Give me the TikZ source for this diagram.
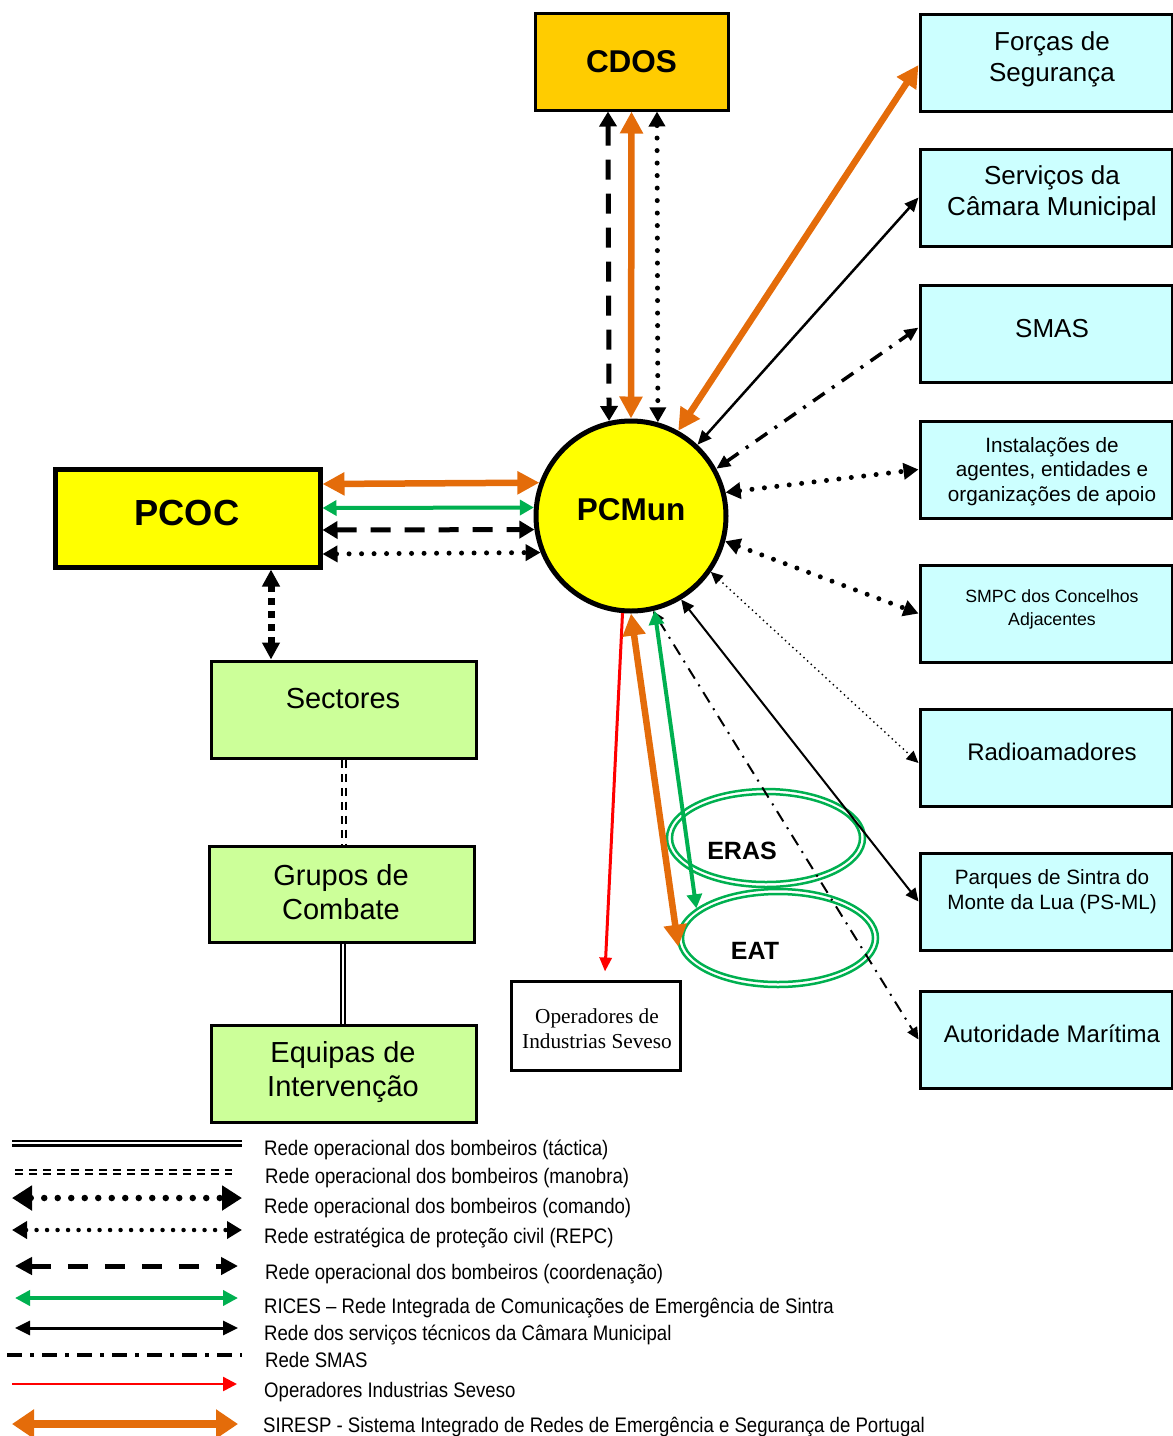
\documentclass[tikz,border=0pt]{standalone}
\usepackage{fontspec}
\setmainfont{Liberation Sans}
\newfontfamily\seriffam{Liberation Serif}
\usetikzlibrary{arrows.meta,calc,shapes.geometric}
\definecolor{orng}{HTML}{E46C0A}
\definecolor{grn}{HTML}{00B050}
\definecolor{cdosc}{HTML}{FFCC00}
\definecolor{yel}{HTML}{FFFF00}
\definecolor{cyb}{HTML}{CCFFFF}
\definecolor{lgr}{HTML}{CCFF99}
\newcommand{\lgstretch}[1]{\scalebox{1}[1.13]{#1}}
\begin{document}
\begin{tikzpicture}[x=1pt,y=-1pt,
  every node/.style={inner sep=0pt},
  rbox/.style={draw=black, rectangle, line width=3pt, fill=cyb, minimum width=252pt, minimum height=97pt},
  gbox/.style={draw=black, rectangle, line width=3pt, fill=lgr, minimum width=265pt, minimum height=97pt},
  tA/.style={align=center, font=\fontsize{26}{31}\selectfont},
  tB/.style={align=center, font=\fontsize{24}{29}\selectfont},
  tC/.style={align=center, font=\fontsize{20.7}{24.5}\selectfont},
  tD/.style={align=center, font=\fontsize{17.7}{23}\selectfont},
  tG/.style={align=center, font=\fontsize{29}{34}\selectfont},
  bt/.style={font=\bfseries\fontsize{#1}{#1}\selectfont},
  lgt/.style={anchor=base west, font=\fontsize{18.6}{20}\selectfont},
  ocon/.style={draw=orng, line width=6.5pt, arrows={Triangle[length=22pt,width=22pt]-Triangle[length=22pt,width=22pt]}},
  gcon/.style={draw=grn, line width=4pt, arrows={Triangle[length=14pt,width=15pt]-Triangle[length=14pt,width=15pt]}},
  dcon/.style={draw=black, line width=5pt, dash pattern=on 20pt off 14pt, arrows={Triangle[length=15pt,width=17pt]-Triangle[length=15pt,width=17pt]}},
  pcon/.style={draw=black, line width=5pt, line cap=round, dash pattern=on 0pt off 12.5pt, arrows={Triangle[length=15pt,width=16pt]-Triangle[length=15pt,width=16pt]}},
  sqcon/.style={draw=black, line width=7pt, dash pattern=on 7pt off 6pt, arrows={Triangle[length=17pt,width=17pt]-Triangle[length=17pt,width=17pt]}},
  scon/.style={draw=black, line width=2.5pt, arrows={Triangle[length=14pt,width=12pt]-Triangle[length=14pt,width=12pt]}},
  sthin/.style={draw=black, line width=2pt, arrows={Triangle[length=13pt,width=12pt]-Triangle[length=13pt,width=12pt]}},
  ddcon/.style={draw=black, line width=3.5pt, dash pattern=on 14pt off 9pt on 3pt off 9pt, arrows={Triangle[length=14pt,width=12pt]-Triangle[length=14pt,width=12pt]}},
  ddthin/.style={draw=black, line width=2pt, dash pattern=on 12pt off 7pt on 2pt off 7pt, arrows={Triangle[length=12pt,width=11pt]-Triangle[length=12pt,width=11pt]}},
  fdcon/.style={draw=black, line width=2pt, line cap=round, dash pattern=on 0pt off 5pt, arrows={Triangle[length=12pt,width=11pt]-Triangle[length=12pt,width=11pt]}},
  rcon/.style={draw=red, line width=3pt, arrows={-Triangle[length=14pt,width=12pt]}},
  dbls/.style={draw=black, double=white, line width=2pt, double distance=2.5pt},
  dbld/.style={draw=black, double=white, line width=2pt, double distance=2pt, dash pattern=on 8pt off 6pt},
  ell/.style={draw=grn, ellipse, line width=2.5pt}
]
\useasboundingbox (0,0) rectangle (1173,1436);

% ---------- main nodes ----------
\node[draw=black, rectangle, line width=3pt, fill=cdosc, minimum width=193pt, minimum height=97pt, bt=31.5] (cdos) at (631.5,61.5) {CDOS};
\node[draw=black, circle, line width=5pt, fill=yel, minimum size=190pt] (pcmun) at (631,516) {};
\node[bt=31.5] (pcmunt) at (631,510) {PCMun};
\node[draw=black, rectangle, line width=5pt, fill=yel, minimum width=265pt, minimum height=98pt] (pcoc) at (187.5,518) {};
\node[bt=36.3] (pcoct) at (187,513) {PCOC};

\node[gbox] (sect) at (343.5,709.5) {};
\node[tG] (sectt) at (343,699) {Sectores};
\node[gbox, minimum height=96pt] (grp) at (341.5,894) {};
\node[tG] (grpt) at (341,892) {Grupos de\\Combate};
\node[gbox] (equip) at (343.5,1073.5) {};
\node[tG] (equipt) at (343,1072) {Equipas de\\Intervenção};

\node[draw=black, rectangle, line width=3pt, fill=white, minimum width=169pt, minimum height=89pt] (ops) at (595.5,1025.5) {};
\node[align=center, font=\seriffam\fontsize{21.3}{25}\selectfont] (opst) at (597,1029) {Operadores de\\Industrias Seveso};

% right column
\node[rbox] (fs) at (1046,63) {};
\node[tA] (fst) at (1052,59) {Forças de\\Segurança};
\node[rbox] (scm) at (1046,197.5) {};
\node[tA] (scmt) at (1052,193.5) {Serviços da\\Câmara Municipal};
\node[rbox] (smas) at (1046,333.5) {};
\node[tA] (smast) at (1052,329) {SMAS};
\node[rbox] (inst) at (1046,469.5) {};
\node[tC] (instt) at (1052,471.5) {Instalações de\\agentes, entidades e\\organizações de apoio};
\node[rbox] (smpc) at (1046,613.5) {};
\node[tD] (smpct) at (1052,609) {SMPC dos Concelhos\\Adjacentes};
\node[rbox] (radio) at (1046,757.5) {};
\node[tB] (radiot) at (1052,752) {Radioamadores};
\node[rbox] (parq) at (1046,901.5) {};
\node[tC] (parqt) at (1052,891.5) {Parques de Sintra do\\Monte da Lua (PS-ML)};
\node[rbox] (auto) at (1046,1039.5) {};
\node[tB] (autot) at (1052,1034) {Autoridade Marítima};

% ellipses
\node[ell, minimum width=198pt, minimum height=98pt] (eras) at (766,838) {};
\draw[grn, line width=2.5pt] (eras.center) ellipse [x radius=94pt, y radius=44pt];
\node[bt=25] (erast) at (742,851) {ERAS};
\node[ell, minimum width=200pt, minimum height=98pt] (eat) at (778,938) {};
\draw[grn, line width=2.5pt] (eat.center) ellipse [x radius=95pt, y radius=44pt];
\node[bt=25] (eatt) at (755,951) {EAT};

% ---------- connectors ----------
% CDOS - PCMun
\draw[dcon] ($(cdos.south)+(-23.5,0)$) -- (pcmun.103.6);
\draw[ocon] (cdos.south) -- (pcmun.north);
\draw[pcon] ($(cdos.south)+(25.5,0)$) -- (pcmun.74.5);

% PCMun - right column
\draw[ocon] (pcmun.61) -- ($(fs.west)+(0,2)$);
\draw[scon] (pcmun.47) -- (scm.west);
\draw[ddcon] (pcmun.29) -- ($(smas.west)+(0,-6)$);
\draw[pcon] (pcmun.14) -- (inst.west);
\draw[pcon] (pcmun.-15) -- (smpc.west);
\draw[fdcon] (pcmun.-35) -- ($(radio.west)+(0,5.5)$);
\draw[sthin] (pcmun.-59) -- (parq.west);
\draw[ddthin] (pcmun.-77) -- (auto.west);

% PCMun - bottom
\draw[rcon] (pcmun.-95) -- ($(ops.north)+(9.5,-8)$);
\draw[ocon] (pcmun.south) -- (eat.185);
\draw[gcon] (pcmun.-76) -- (eat.160);

% PCOC - PCMun
\draw[ocon] ($(pcoc.east)+(0,-34)$) -- (pcmun.160.8);
\draw[gcon] ($(pcoc.east)+(0,-10)$) -- (pcmun.175.3);
\draw[dcon] ($(pcoc.east)+(0,12)$) -- (pcmun.188.2);
\draw[pcon] ($(pcoc.east)+(0,36)$) -- (pcmun.202.9);

% PCOC - Sectores - Grupos - Equipas
\draw[sqcon] ($(pcoc.south)+(83.5,0)$) -- ($(sect.north)+(-72.5,0)$);
\draw[dbld] ($(sect.south)+(0.5,0)$) -- ($(grp.north)+(2.5,0)$);
\draw[dbls] ($(grp.south)+(1.5,0)$) -- ($(equip.north)+(-0.5,0)$);

% ---------- legend ----------
\coordinate (la1) at (12,1143);  \coordinate (lb1) at (242,1143);
\coordinate (la2) at (15,1172);  \coordinate (lb2) at (232,1172);
\coordinate (la3) at (12,1198);  \coordinate (lb3) at (242,1198);
\coordinate (la4) at (12,1230);  \coordinate (lb4) at (242,1230);
\coordinate (la5) at (15,1266);  \coordinate (lb5) at (238,1266);
\coordinate (la6) at (15,1298);  \coordinate (lb6) at (238,1298);
\coordinate (la7) at (15,1328);  \coordinate (lb7) at (238,1328);
\coordinate (la8) at (7,1355);   \coordinate (lb8) at (242,1355);
\coordinate (la9) at (12,1384);  \coordinate (lb9) at (237,1384);
\coordinate (la10) at (12,1424); \coordinate (lb10) at (238,1424);

\draw[draw=black, double=white, line width=2.5pt, double distance=2pt] (la1) -- (lb1);
\draw[dbld] (la2) -- (lb2);
\draw[draw=black, line width=6.5pt, line cap=round, dash pattern=on 0pt off 13.5pt, arrows={Triangle[length=20pt,width=24pt]-Triangle[length=20pt,width=24pt]}] (la3) -- (lb3);
\draw[draw=black, line width=4.5pt, line cap=round, dash pattern=on 0pt off 10.5pt, arrows={Triangle[length=15pt,width=17pt]-Triangle[length=15pt,width=17pt]}] (la4) -- (lb4);
\draw[draw=black, line width=5pt, dash pattern=on 20pt off 17pt, arrows={Triangle[length=17pt,width=17pt]-Triangle[length=17pt,width=17pt]}] (la5) -- (lb5);
\draw[draw=grn, line width=4pt, arrows={Triangle[length=15pt,width=15pt]-Triangle[length=15pt,width=15pt]}] (la6) -- (lb6);
\draw[draw=black, line width=3pt, arrows={Triangle[length=15pt,width=14pt]-Triangle[length=15pt,width=14pt]}] (la7) -- (lb7);
\draw[draw=black, line width=4pt, dash pattern=on 15pt off 8pt on 4pt off 8pt] (la8) -- (lb8);
\draw[draw=red, line width=2.5pt, arrows={-Triangle[length=14pt,width=14pt]}] (la9) -- (lb9);
\draw[draw=orng, line width=8pt, arrows={Triangle[length=22pt,width=28pt]-Triangle[length=22pt,width=28pt]}] (la10) -- (lb10);

\node[lgt] (lt1) at (264,1155) {\lgstretch{Rede operacional dos bombeiros (táctica)}};
\node[lgt] (lt2) at (265,1183) {\lgstretch{Rede operacional dos bombeiros (manobra)}};
\node[lgt] (lt3) at (264,1213) {\lgstretch{Rede operacional dos bombeiros (comando)}};
\node[lgt] (lt4) at (264,1243) {\lgstretch{Rede estratégica de proteção civil (REPC)}};
\node[lgt] (lt5) at (265,1279) {\lgstretch{Rede operacional dos bombeiros (coordenação)}};
\node[lgt] (lt6) at (264,1313) {\lgstretch{RICES – Rede Integrada de Comunicações de Emergência de Sintra}};
\node[lgt] (lt7) at (264,1340) {\lgstretch{Rede dos serviços técnicos da Câmara Municipal}};
\node[lgt] (lt8) at (265,1367) {\lgstretch{Rede SMAS}};
\node[lgt] (lt9) at (264,1397) {\lgstretch{Operadores Industrias Seveso}};
\node[lgt] (lt10) at (263,1432) {\lgstretch{SIRESP - Sistema Integrado de Redes de Emergência e Segurança de Portugal}};
\end{tikzpicture}
\end{document}
